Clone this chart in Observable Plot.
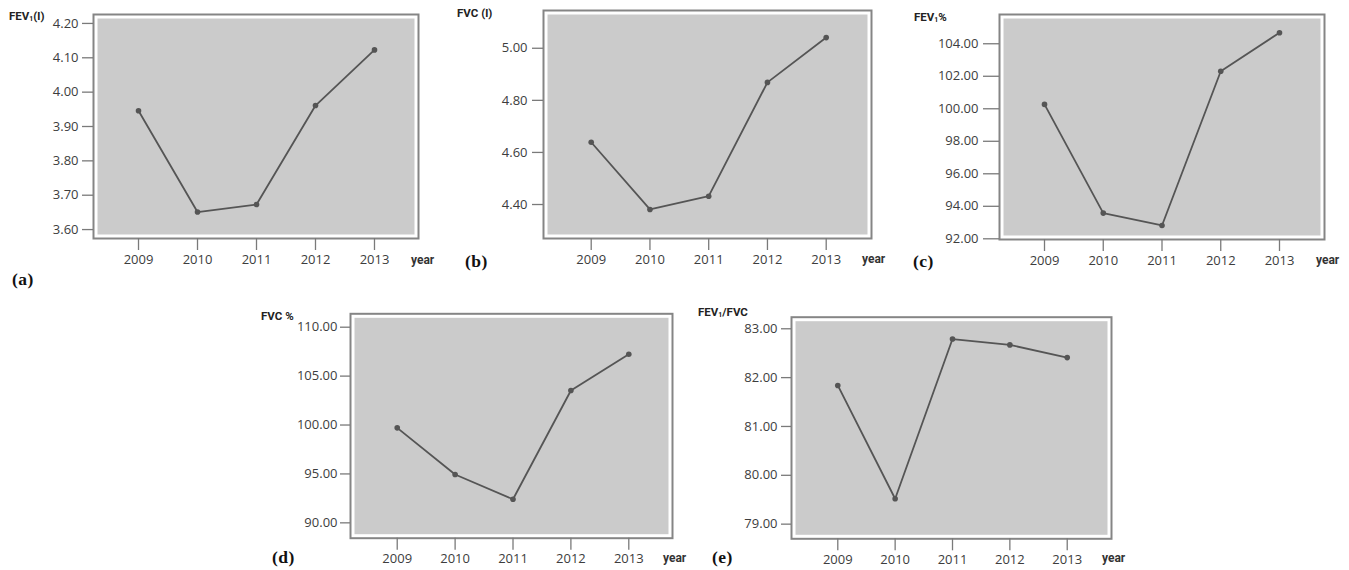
<!DOCTYPE html>
<html>
<head>
<meta charset="utf-8">
<script src="https://cdn.jsdelivr.net/npm/d3@7"></script>
<script src="https://cdn.jsdelivr.net/npm/@observablehq/plot@0.6"></script>
<style>
  html, body { margin: 0; padding: 0; background: #ffffff; }
  #root { position: relative; width: 1349px; height: 570px; overflow: hidden; background: #ffffff; }
  .panel { position: absolute; }
  .lbl { position: absolute; line-height: 1; white-space: nowrap; transform: translateY(-50%); }
  .ttl { font-family: "Liberation Sans Narrow", "Roboto", sans-serif; font-weight: bold; font-size: 11.5px; color: #222; }
  .yr { font-family: "Liberation Sans Narrow", "Roboto", sans-serif; font-weight: bold; font-size: 12px; color: #333; }
  .tag { font-family: "Liberation Serif", "DejaVu Serif", serif; font-weight: bold; font-size: 17.5px; color: #111; letter-spacing: 0.5px; }
  sub { font-size: 7px; vertical-align: -1px; }
</style>
</head>
<body>
<div id="root"></div>
<script>
// ---- data ----
const years = [2009, 2010, 2011, 2012, 2013];
const fev1L = [3.946, 3.651, 3.673, 3.961, 4.123];
const fvcL = [4.639, 4.381, 4.432, 4.869, 5.041];
const fev1Pct = [100.27, 93.58, 92.82, 102.31, 104.68];
const fvcPct = [99.71, 94.94, 92.41, 103.53, 107.24];
const fev1FvcRatio = [81.84, 79.52, 82.79, 82.67, 82.41];

const ticksA = [3.6, 3.7, 3.8, 3.9, 4.0, 4.1, 4.2];
const ticksB = [4.4, 4.6, 4.8, 5.0];
const ticksC = [92, 94, 96, 98, 100, 102, 104];
const ticksD = [90, 95, 100, 105, 110];
const ticksE = [79, 80, 81, 82, 83];

const yTitles = ["FEV<sub>1</sub>(l)", "FVC (l)", "FEV<sub>1</sub>%", "FVC %", "FEV<sub>1</sub>/FVC"];
const tags = ["(a)", "(b)", "(c)", "(d)", "(e)"];
const xTitle = "year";

// ---- layout ----
const panels = [
  {values: fev1L, ticks: ticksA, left: 0, top: 0, width: 440, height: 270,
   mL: 93, mR: 22, mT: 14, mB: 32, xd: [2008.237, 2013.746], yd: [3.574, 4.226], tickY: 11, padY: 4,
   title: [9, 17], year: [411, 260], tag: [12, 280]},
  {values: fvcL, ticks: ticksB, left: 450, top: 0, width: 445, height: 270,
   mL: 93, mR: 24, mT: 10, mB: 32, xd: [2008.188, 2013.771], yd: [4.2695, 5.145], tickY: 11, padY: 5,
   title: [457, 14], year: [862, 259], tag: [465, 262]},
  {values: fev1Pct, ticks: ticksC, left: 900, top: 0, width: 449, height: 270,
   mL: 99, mR: 25, mT: 14, mB: 31, xd: [2008.234, 2013.766], yd: [91.957, 105.80], tickY: 16, padY: 5,
   title: [914, 18], year: [1316, 260], tag: [913, 262]},
  {values: fvcPct, ticks: ticksD, left: 240, top: 290, width: 445, height: 280,
   mL: 110, mR: 13, mT: 23.3, mB: 32.3, xd: [2008.193, 2013.755], yd: [88.43, 111.37], tickY: 10, padY: 3,
   title: [261, 317], year: [663, 558], tag: [272, 558]},
  {values: fev1FvcRatio, ticks: ticksE, left: 680, top: 290, width: 450, height: 280,
   mL: 111, mR: 19, mT: 26.7, mB: 31.7, xd: [2008.193, 2013.772], yd: [78.70, 83.237], tickY: 10, padY: 4,
   title: [698, 313], year: [1102, 558], tag: [712, 558]}
];

const root = document.getElementById("root");

panels.forEach((p, i) => {
  const data = years.map((y, j) => ({year: y, value: p.values[j]}));
  const chart = Plot.plot({
    width: p.width,
    height: p.height,
    marginLeft: p.mL,
    marginRight: p.mR,
    marginTop: p.mT,
    marginBottom: p.mB,
    style: {background: "transparent", fontFamily: "'Open Sans', 'Noto Sans', sans-serif", overflow: "visible"},
    x: {type: "linear", domain: p.xd, axis: null, label: null},
    y: {type: "linear", domain: p.yd, axis: null, label: null},
    marks: [
      Plot.frame({fill: "#cbcbcb", inset: 4}),
      Plot.frame({stroke: "#858585", strokeWidth: 2}),
      Plot.axisX(years, {anchor: "bottom", tickSize: 12, tickPadding: 4, tickFormat: d => String(d),
        fontSize: 13, color: "#3d3d3d", stroke: "#7a7a7a", strokeWidth: 1.3, label: null}),
      Plot.axisY(p.ticks, {anchor: "left", tickSize: p.tickY, tickPadding: p.padY, tickFormat: ".2f",
        fontSize: 13, color: "#3d3d3d", stroke: "#7a7a7a", strokeWidth: 1.3, label: null}),
      Plot.line(data, {x: "year", y: "value", stroke: "#555", strokeWidth: 1.8}),
      Plot.dot(data, {x: "year", y: "value", r: 2.8, fill: "#555", stroke: "none"})
    ]
  });
  const wrap = document.createElement("div");
  wrap.className = "panel";
  wrap.style.left = p.left + "px";
  wrap.style.top = p.top + "px";
  wrap.appendChild(chart);
  root.appendChild(wrap);

  const add = (cls, html, pos) => {
    const d = document.createElement("div");
    d.className = "lbl " + cls;
    d.innerHTML = html;
    d.style.left = pos[0] + "px";
    d.style.top = pos[1] + "px";
    root.appendChild(d);
  };
  add("ttl", yTitles[i], p.title);
  add("yr", xTitle, p.year);
  add("tag", tags[i], p.tag);
});
</script>
</body>
</html>
